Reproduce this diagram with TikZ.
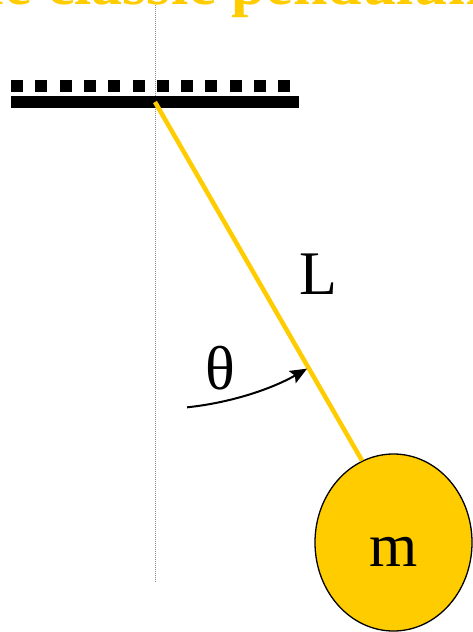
\documentclass[tikz,border=0pt]{standalone}
\usepackage{fontspec}
\setmainfont{Liberation Serif}
\usetikzlibrary{arrows.meta, shapes.geometric}
\definecolor{gold}{HTML}{FFCC00}
\tikzset{
    headline/.style={anchor=base west, inner sep=0pt, text=gold, font=\fontsize{62}{62}\selectfont\bfseries},
    symbol/.style={anchor=base, inner sep=0pt, font=\fontsize{62}{62}\selectfont},
    bob/.style={draw, ellipse, fill=gold, line width=1.3pt, minimum width=157pt, minimum height=177pt, inner sep=0pt,
        font=\fontsize{62}{62}\selectfont, text height=49pt, text depth=2pt},
    rod/.style={draw=gold, line width=4.5pt},
    axis/.style={draw=gray!90, densely dotted, line width=1pt},
    swing/.style={-{Stealth[length=17pt, width=14pt, inset=3pt]}, line width=2pt}
}
\begin{document}
\begin{tikzpicture}[x=1pt, y=-1pt]
  \useasboundingbox (0,0) rectangle (472,632);
  \node(T)[headline] at (-72,4) {The classic pendulum};
  \draw[axis] (155,5) -- (155,582);
  \foreach \i in {0,...,11}
    \fill (11+24.3*\i,80) rectangle ++(12,12);
  \fill (11,96) rectangle (299,108);
  \coordinate (pivot) at (155,102);
  \node(M)[bob] at (393.5,542.5) {m};
  \draw[rod] (pivot) -- (M.111);
  \node(L)[symbol] at (318,294) {L};
  \node(Th)[symbol] at (220,389) {θ};
  \draw[swing] (pivot) ++(84:307) arc[start angle=84, end angle=60.3, radius=307];
\end{tikzpicture}
\end{document}
